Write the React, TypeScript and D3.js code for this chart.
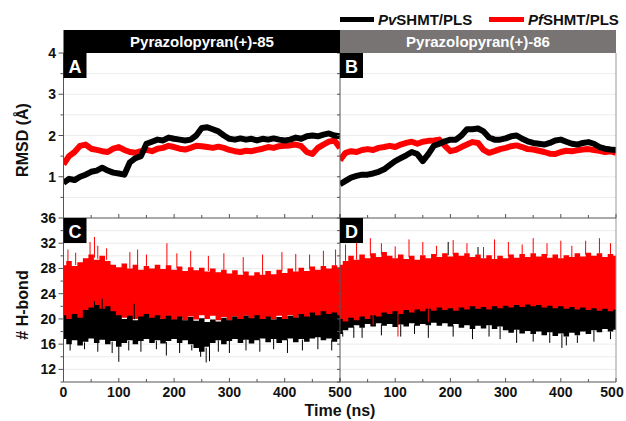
import React from 'react';
import * as d3 from 'd3';

// sample times (ns) shared by every trace
const timeGrid = d3.range(0, 501, 10);

// RMSD (Å), panel A = Pyrazolopyran(+)-85, panel B = Pyrazolopyran(+)-86
const pvRmsdA = [0.85, 0.95, 0.92, 1.0, 1.05, 1.12, 1.15, 1.22, 1.15, 1.1, 1.08, 1.05, 1.35, 1.45, 1.5, 1.8, 1.85, 1.9, 1.88, 1.95, 1.92, 1.9, 1.88, 1.9, 2.0, 2.18, 2.2, 2.15, 2.1, 2.0, 1.92, 1.9, 1.93, 1.9, 1.92, 1.88, 1.92, 1.9, 1.93, 1.9, 1.88, 1.9, 1.95, 1.92, 1.98, 2.0, 1.98, 2.02, 2.05, 2.0, 1.98];
const pfRmsdA = [1.3, 1.5, 1.6, 1.75, 1.78, 1.68, 1.65, 1.62, 1.6, 1.68, 1.72, 1.65, 1.6, 1.58, 1.62, 1.65, 1.62, 1.68, 1.7, 1.75, 1.72, 1.68, 1.66, 1.7, 1.75, 1.74, 1.72, 1.7, 1.73, 1.7, 1.65, 1.62, 1.6, 1.63, 1.62, 1.65, 1.68, 1.72, 1.7, 1.74, 1.75, 1.76, 1.78, 1.74, 1.6, 1.55, 1.7, 1.78, 1.85, 1.88, 1.7];
const pvRmsdB = [0.82, 0.9, 0.98, 1.02, 1.05, 1.05, 1.08, 1.12, 1.18, 1.28, 1.38, 1.45, 1.52, 1.6, 1.55, 1.38, 1.55, 1.75, 1.8, 1.86, 1.9, 1.9, 2.0, 2.15, 2.15, 2.17, 2.1, 1.95, 1.9, 1.9, 1.93, 1.98, 2.0, 1.92, 1.86, 1.82, 1.8, 1.78, 1.82, 1.88, 1.9, 1.85, 1.8, 1.78, 1.82, 1.84, 1.8, 1.72, 1.68, 1.66, 1.65];
const pfRmsdB = [1.4, 1.58, 1.62, 1.6, 1.65, 1.67, 1.65, 1.7, 1.72, 1.75, 1.72, 1.78, 1.82, 1.85, 1.8, 1.85, 1.87, 1.88, 1.9, 1.75, 1.62, 1.65, 1.72, 1.78, 1.84, 1.82, 1.65, 1.58, 1.62, 1.67, 1.7, 1.74, 1.76, 1.72, 1.67, 1.66, 1.63, 1.6, 1.56, 1.55, 1.6, 1.63, 1.62, 1.64, 1.66, 1.67, 1.65, 1.63, 1.6, 1.62, 1.58];

// number of H-bonds: upper / lower edge of the dense band, panel C and D
const pfHbHiC = [28.5, 29.2, 28.4, 29.0, 29.6, 30.2, 29.4, 30.0, 29.2, 28.6, 28.2, 28.8, 28.0, 28.6, 27.8, 28.4, 28.0, 28.6, 27.9, 28.5, 27.8, 28.3, 27.6, 28.2, 27.7, 28.1, 27.5, 28.0, 27.4, 27.8, 27.2, 27.7, 27.0, 27.5, 26.9, 27.4, 27.0, 27.6, 27.1, 27.8, 27.3, 28.0, 27.5, 28.1, 27.6, 28.3, 27.8, 28.4, 28.0, 28.5, 28.2];
const pfHbLoC = [19.5, 19.0, 19.8, 19.2, 20.2, 19.6, 20.4, 19.8, 20.6, 20.0, 19.6, 20.2, 19.4, 20.0, 19.6, 20.3, 19.7, 20.2, 19.5, 20.0, 19.6, 20.3, 19.8, 20.4, 19.9, 20.6, 20.0, 20.5, 19.8, 20.3, 19.7, 20.4, 19.9, 20.5, 20.0, 20.4, 19.8, 20.3, 19.9, 20.5, 20.0, 20.6, 20.1, 20.5, 20.0, 20.7, 20.2, 20.6, 20.0, 20.4, 20.1];
const pvHbHiC = [20.6, 20.0, 20.8, 20.2, 21.4, 21.8, 22.2, 21.6, 22.0, 21.2, 20.6, 20.0, 20.5, 19.8, 20.4, 20.8, 20.2, 20.6, 20.0, 20.5, 19.9, 20.4, 19.8, 20.3, 19.7, 20.1, 19.5, 19.9, 19.6, 20.2, 19.8, 20.4, 20.0, 20.5, 20.1, 20.6, 20.0, 20.4, 19.9, 20.3, 20.0, 20.5, 20.2, 20.8, 20.4, 21.0, 20.6, 21.2, 20.8, 21.0, 20.6];
const pvHbLoC = [16.8, 16.0, 16.6, 15.8, 16.4, 16.9, 16.2, 16.7, 16.0, 16.5, 15.6, 16.2, 16.6, 16.0, 16.5, 16.8, 16.2, 16.6, 16.1, 16.5, 16.8, 16.2, 16.6, 16.0, 15.4, 14.8, 15.6, 16.2, 16.6, 16.0, 16.5, 16.8, 16.2, 16.7, 16.1, 16.6, 16.9, 16.3, 16.8, 16.2, 16.6, 16.9, 16.3, 16.8, 16.4, 16.9, 17.1, 16.6, 16.9, 16.4, 16.8];
const pfHbHiD = [28.6, 29.2, 30.0, 29.4, 30.2, 29.6, 30.4, 29.8, 30.6, 30.0, 29.6, 30.2, 29.5, 30.0, 29.4, 30.1, 29.6, 30.3, 29.8, 30.4, 29.9, 30.5, 30.0, 30.4, 29.8, 30.2, 29.6, 30.1, 29.5, 30.0, 29.6, 30.2, 29.7, 30.3, 29.8, 30.4, 29.9, 30.3, 29.7, 30.2, 29.6, 30.1, 29.8, 30.4, 29.9, 30.5, 30.0, 30.4, 29.8, 30.3, 30.0];
const pfHbLoD = [20.0, 19.6, 20.2, 19.8, 20.4, 20.0, 20.6, 20.4, 21.0, 20.8, 21.2, 20.8, 21.4, 21.0, 21.5, 21.2, 21.6, 21.3, 21.8, 21.4, 21.7, 21.3, 21.8, 21.5, 22.0, 21.6, 21.9, 21.5, 22.0, 21.7, 22.1, 21.8, 22.2, 21.9, 22.3, 22.0, 22.2, 21.8, 22.1, 21.7, 22.0, 21.6, 21.9, 21.5, 21.8, 21.4, 21.7, 21.3, 21.6, 21.2, 21.5];
const pvHbHiD = [24.0, 23.4, 24.2, 23.6, 24.4, 23.8, 24.2, 23.6, 24.0, 23.4, 23.8, 23.2, 23.6, 23.0, 23.4, 23.0, 23.6, 23.2, 23.8, 23.4, 23.6, 23.0, 23.4, 22.8, 23.2, 22.8, 23.4, 23.0, 23.2, 22.6, 23.0, 22.6, 23.2, 22.8, 23.0, 22.6, 23.2, 22.8, 23.0, 22.6, 23.0, 22.6, 23.2, 22.8, 23.0, 22.6, 23.2, 22.8, 23.0, 22.6, 23.0];
const pvHbLoD = [17.6, 18.2, 18.6, 19.0, 18.6, 19.2, 18.8, 19.3, 18.9, 19.2, 18.7, 19.1, 18.8, 19.3, 18.9, 19.2, 19.0, 19.4, 18.9, 19.3, 18.8, 19.2, 18.6, 19.0, 18.4, 18.9, 18.5, 19.0, 18.4, 18.8, 18.2, 17.8, 18.3, 17.7, 18.1, 17.6, 18.0, 17.4, 17.9, 17.3, 17.7, 17.2, 17.8, 17.4, 18.0, 17.6, 18.2, 17.9, 18.4, 18.0, 18.3];

// single frames that stick out of the band: [time ns, H-bonds]
const pfSpikesUpC = [[8, 31], [22, 30.5], [48, 32.2], [56, 33], [62, 31.6], [78, 31.2], [120, 30.6], [134, 31], [150, 30.2], [187, 32], [205, 30.4], [230, 30.8], [262, 30], [290, 30.4], [325, 29.8], [360, 30.2], [395, 30.6], [420, 30.3], [445, 30.2], [470, 30.8], [492, 31]];
const pvSpikesDownC = [[12, 15], [38, 15.2], [62, 14.8], [88, 14.6], [100, 13.2], [118, 15], [140, 14.8], [168, 15.2], [186, 14.2], [210, 14.6], [232, 15], [248, 14], [258, 13.1], [264, 13.3], [280, 14.8], [300, 14.6], [330, 15], [355, 14.8], [380, 15.2], [405, 14.6], [432, 15], [460, 15.2], [485, 15]];
const pvSpikesUpC = [[56, 22.8], [70, 23.2], [128, 22.4]];
const pfSpikesUpD = [[10, 31.8], [30, 32.4], [55, 32.8], [75, 32], [100, 31.5], [125, 32.6], [150, 32.2], [175, 31.6], [205, 32.5], [230, 32], [260, 31.4], [280, 32.6], [305, 32.2], [330, 31.8], [350, 32.8], [375, 32], [400, 32.4], [420, 31.6], [445, 32.4], [470, 32.8], [490, 32]];
const pfSpikesDownD = [[60, 19], [105, 17.2], [160, 19.5]];
const pvSpikesDownD = [[5, 17.2], [25, 17.0], [40, 17.0], [75, 17.4], [110, 17.2], [135, 17.6], [160, 17.0], [205, 17.2], [240, 16.8], [270, 17.2], [290, 16.8], [320, 16.2], [350, 16.4], [380, 16.2], [402, 15.4], [410, 15.8], [430, 16.2], [460, 16.4], [490, 16.8]];
const pvSpikesUpD = [[196, 32.2], [250, 31.4]];

const headers = ['Pyrazolopyran(+)-85', 'Pyrazolopyran(+)-86'];
const seriesNames = ['Pv', 'Pf'];
const rmsdTicks = [1, 2, 3, 4];
const hbTicks = [12, 16, 20, 24, 28, 32, 36];

const FONT = 'Liberation Sans, Arial, Helvetica, sans-serif';
const RED = '#ff0000';

const xLeft = d3.scaleLinear().domain([0, 500]).range([63.5, 340]);
const xRight = d3.scaleLinear().domain([0, 500]).range([340, 616]);
const yRmsd = d3.scaleLinear().domain([0, 4]).range([218, 53]);
const yHb = d3.scaleLinear().domain([10, 36]).range([382, 218]);

type Scale = d3.ScaleLinear<number, number>;

function Trace({ x, y, values, color }: { x: Scale; y: Scale; values: number[]; color: string }) {
  const line = d3.line<number>().x((_, i) => x(timeGrid[i])).y(d => y(d));
  return <path d={line(values) || ''} fill="none" stroke={color} strokeWidth={6} strokeLinejoin="round" />;
}

function Band({ x, y, hi, lo, color }: { x: Scale; y: Scale; hi: number[]; lo: number[]; color: string }) {
  const area = d3.area<number>()
    .x((_, i) => x(timeGrid[i]))
    .y0((_, i) => y(lo[i]))
    .y1(d => y(d))
    .curve(d3.curveStep);
  return <path d={area(hi) || ''} fill={color} />;
}

function Spikes({ x, y, spikes, edge, color }: { x: Scale; y: Scale; spikes: number[][]; edge: number[]; color: string }) {
  const edgeAt = d3.scaleLinear().domain(timeGrid).range(edge);
  return (
    <g stroke={color} strokeWidth={1}>
      {spikes.map(([t, v], i) => (
        <line key={i} x1={x(t)} x2={x(t)} y1={y(edgeAt(t))} y2={y(v)} />
      ))}
    </g>
  );
}

function PanelTag({ x, y, label }: { x: number; y: number; label: string }) {
  return (
    <g>
      <rect x={x} y={y} width={23} height={25} fill="#000" />
      <text x={x + 11.5} y={y + 19.5} textAnchor="middle" fill="#fff" fontSize={18} fontWeight="bold" fontFamily={FONT}>{label}</text>
    </g>
  );
}

export default function App() {
  const xs = [xLeft, xRight];
  const minorT = d3.range(0, 501, 50);
  const rmsdGrid = d3.range(0.5, 4, 0.5);
  const hbGrid = d3.range(12, 36, 2);
  return (
    <svg width={626} height={421} style={{ position: 'absolute', left: 0, top: 0 }} fontFamily={FONT}>
      <defs>
        <clipPath id="cA"><rect x={63.5} y={53} width={276.5} height={165} /></clipPath>
        <clipPath id="cB"><rect x={340} y={53} width={276} height={165} /></clipPath>
        <clipPath id="cC"><rect x={63.5} y={218} width={276.5} height={164} /></clipPath>
        <clipPath id="cD"><rect x={340} y={218} width={276} height={164} /></clipPath>
      </defs>
      <rect width={626} height={421} fill="#fff" />

      {/* faint grid */}
      <g stroke="#ececec" strokeWidth={1}>
        {rmsdGrid.map(v => <line key={'gr' + v} x1={63.5} x2={616} y1={yRmsd(v)} y2={yRmsd(v)} />)}
        {hbGrid.map(v => <line key={'gh' + v} x1={63.5} x2={616} y1={yHb(v)} y2={yHb(v)} />)}
      </g>

      {/* RMSD traces */}
      <g clipPath="url(#cA)">
        <Trace x={xLeft} y={yRmsd} values={pfRmsdA} color={RED} />
        <Trace x={xLeft} y={yRmsd} values={pvRmsdA} color="#000" />
      </g>
      <g clipPath="url(#cB)">
        <Trace x={xRight} y={yRmsd} values={pfRmsdB} color={RED} />
        <Trace x={xRight} y={yRmsd} values={pvRmsdB} color="#000" />
      </g>

      {/* H-bond traces */}
      <g clipPath="url(#cC)">
        <Band x={xLeft} y={yHb} hi={pfHbHiC} lo={pfHbLoC} color={RED} />
        <Spikes x={xLeft} y={yHb} spikes={pfSpikesUpC} edge={pfHbHiC} color={RED} />
        <Band x={xLeft} y={yHb} hi={pvHbHiC} lo={pvHbLoC} color="#000" />
        <Spikes x={xLeft} y={yHb} spikes={pvSpikesDownC} edge={pvHbLoC} color="#000" />
        <Spikes x={xLeft} y={yHb} spikes={pvSpikesUpC} edge={pvHbHiC} color="#000" />
      </g>
      <g clipPath="url(#cD)">
        <Band x={xRight} y={yHb} hi={pvHbHiD} lo={pvHbLoD} color="#000" />
        <Spikes x={xRight} y={yHb} spikes={pvSpikesDownD} edge={pvHbLoD} color="#000" />
        <Band x={xRight} y={yHb} hi={pfHbHiD} lo={pfHbLoD} color={RED} />
        <Spikes x={xRight} y={yHb} spikes={pfSpikesUpD} edge={pfHbHiD} color={RED} />
        <Spikes x={xRight} y={yHb} spikes={pfSpikesDownD} edge={pfHbLoD} color={RED} />
        <Spikes x={xRight} y={yHb} spikes={pvSpikesUpD} edge={pfHbHiD} color="#000" />
      </g>

      {/* frame */}
      <g stroke="#555" strokeWidth={1} fill="none">
        <line x1={63.5} x2={63.5} y1={53} y2={382} />
        <line x1={340} x2={340} y1={53} y2={382} />
        <line x1={616} x2={616} y1={53} y2={382} stroke="#999" />
        <line x1={63.5} x2={616} y1={218} y2={218} />
        <line x1={63.5} x2={616} y1={382} y2={382} />
      </g>

      {/* x ticks */}
      <g stroke="#555" strokeWidth={1}>
        {xs.map((x, k) => minorT.map(t => {
          const len = t % 100 === 0 ? 4 : 3;
          return (
            <g key={k + '-' + t}>
              <line x1={x(t)} x2={x(t)} y1={382} y2={382 - len} />
              <line x1={x(t)} x2={x(t)} y1={218} y2={218 - len} />
            </g>
          );
        }))}
      </g>
      <g fontSize={14} fontWeight="bold" textAnchor="middle" fill="#111">
        {minorT.filter(t => t % 100 === 0).map(t => <text key={'l' + t} x={xLeft(t)} y={397}>{t}</text>)}
        {minorT.filter(t => t % 100 === 0 && t > 0).map(t => (
          <text key={'r' + t} x={t === 500 ? 612 : xRight(t)} y={397}>{t}</text>
        ))}
      </g>

      {/* y ticks */}
      <g stroke="#555" strokeWidth={1}>
        {d3.range(0.5, 4.01, 0.5).map(v => (
          <g key={'yr' + v}>
            <line x1={63.5} x2={v % 1 === 0 ? 58.5 : 60.5} y1={yRmsd(v)} y2={yRmsd(v)} />
            <line x1={340} x2={337} y1={yRmsd(v)} y2={yRmsd(v)} />
          </g>
        ))}
        {d3.range(10, 36.01, 2).map(v => (
          <g key={'yh' + v}>
            <line x1={63.5} x2={v % 4 === 0 ? 58.5 : 60.5} y1={yHb(v)} y2={yHb(v)} />
            <line x1={340} x2={337} y1={yHb(v)} y2={yHb(v)} />
          </g>
        ))}
      </g>
      <g fontSize={14} fontWeight="bold" textAnchor="end" fill="#111">
        {rmsdTicks.map(v => <text key={'tr' + v} x={56} y={yRmsd(v) + 5}>{v}</text>)}
        {hbTicks.map(v => <text key={'th' + v} x={56} y={yHb(v) + 5}>{v}</text>)}
      </g>

      {/* axis titles */}
      <text transform="translate(28,140) rotate(-90)" textAnchor="middle" fontSize={16} fontWeight="bold" fill="#111">RMSD (Å)</text>
      <text transform="translate(28,305) rotate(-90)" textAnchor="middle" fontSize={16} fontWeight="bold" fill="#111"># H-bond</text>
      <text x={340} y={416} textAnchor="middle" fontSize={16} fontWeight="bold" fill="#111">Time (ns)</text>

      {/* header strips */}
      <rect x={63.5} y={30} width={276.5} height={23} fill="#000" />
      <rect x={340} y={30} width={276} height={23} fill="#787474" />
      <text x={202} y={47} textAnchor="middle" fill="#fff" fontSize={15} fontWeight="bold">{headers[0]}</text>
      <text x={478} y={47} textAnchor="middle" fill="#fff" fontSize={15} fontWeight="bold">{headers[1]}</text>

      <PanelTag x={63.5} y={53} label="A" />
      <PanelTag x={340} y={53} label="B" />
      <PanelTag x={63.5} y={218} label="C" />
      <PanelTag x={340} y={218} label="D" />

      {/* legend */}
      <g fontSize={15} fontWeight="bold" fill="#111">
        <rect x={340} y={17} width={34} height={5} fill="#000" />
        <text x={378} y={25}><tspan fontStyle="italic">{seriesNames[0]}</tspan>SHMT/PLS</text>
        <rect x={489} y={17} width={35} height={5} fill={RED} />
        <text x={528} y={25}><tspan fontStyle="italic">{seriesNames[1]}</tspan>SHMT/PLS</text>
      </g>
    </svg>
  );
}
